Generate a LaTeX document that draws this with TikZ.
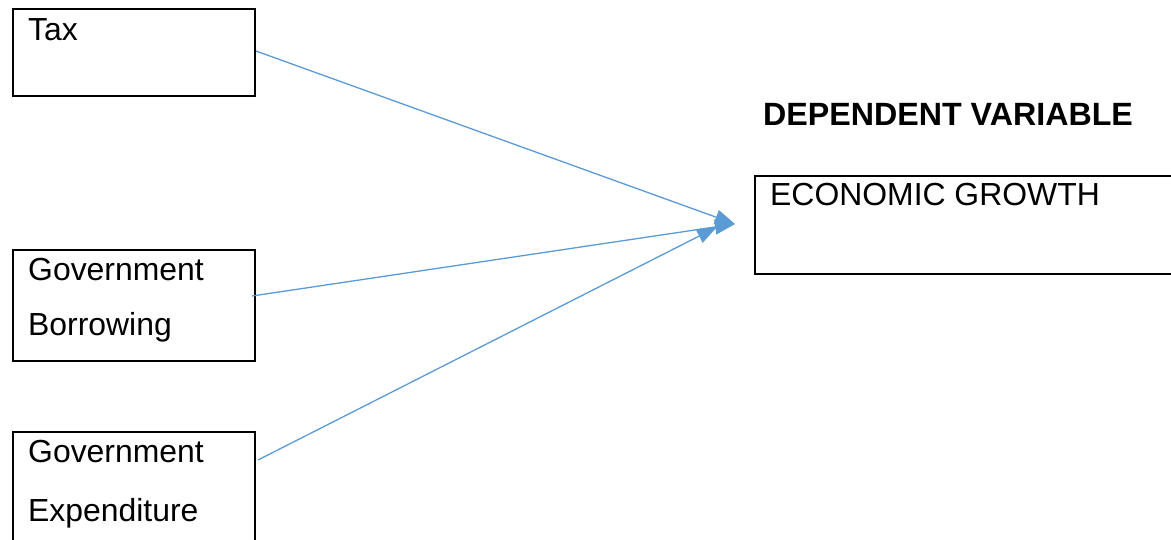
\documentclass[tikz,border=0pt]{standalone}
\usepackage{fontspec}
\setmainfont{Liberation Sans}
\usetikzlibrary{arrows.meta}
\definecolor{linkblue}{HTML}{5B9BD5}
\begin{document}
\begin{tikzpicture}[x=1pt,y=-1pt,
  varbox/.style={draw=black,line width=2pt,rectangle,inner sep=0pt,outer sep=0pt},
  lbl/.style={anchor=base west,inner sep=0pt,font=\fontsize{31.9}{38}\selectfont},
  hdr/.style={anchor=base west,inner sep=0pt,font=\fontsize{32.2}{38}\selectfont\bfseries},
  link/.style={draw=linkblue,line width=1.3pt,-{Triangle[length=20pt,width=15pt]}}]
\useasboundingbox (0,0) rectangle (1171,539);
\node[varbox,minimum width=242pt,minimum height=87pt] (tax) at (134,52.5) {};
\node[varbox,minimum width=242pt,minimum height=111pt] (borrow) at (134,305.5) {};
\node[varbox,minimum width=242pt,minimum height=128pt] (expend) at (134,496) {};
\node[varbox,minimum width=425pt,minimum height=98pt] (growth) at (967.5,225) {};
\node[lbl] (taxt) at (28,40) {Tax};
\node[lbl] (borrowa) at (28,280) {Government};
\node[lbl] (borrowb) at (28,335) {Borrowing};
\node[lbl] (expenda) at (28,462) {Government};
\node[lbl] (expendb) at (28,521.5) {Expenditure};
\node[lbl] (growtht) at (770,205.5) {ECONOMIC GROWTH};
\node[hdr] (dep) at (763,125) {DEPENDENT VARIABLE};
\coordinate (tipA) at (735,224);
\coordinate (tipB) at (717,227);
\draw[link] ([yshift=1.5pt,xshift=1pt]tax.east) -- (tipA);
\draw[link] ([yshift=9.5pt,xshift=-3pt]borrow.east) -- (tipA);
\draw[link] ([yshift=36pt,xshift=3pt]expend.east) -- (tipB);
\end{tikzpicture}
\end{document}
